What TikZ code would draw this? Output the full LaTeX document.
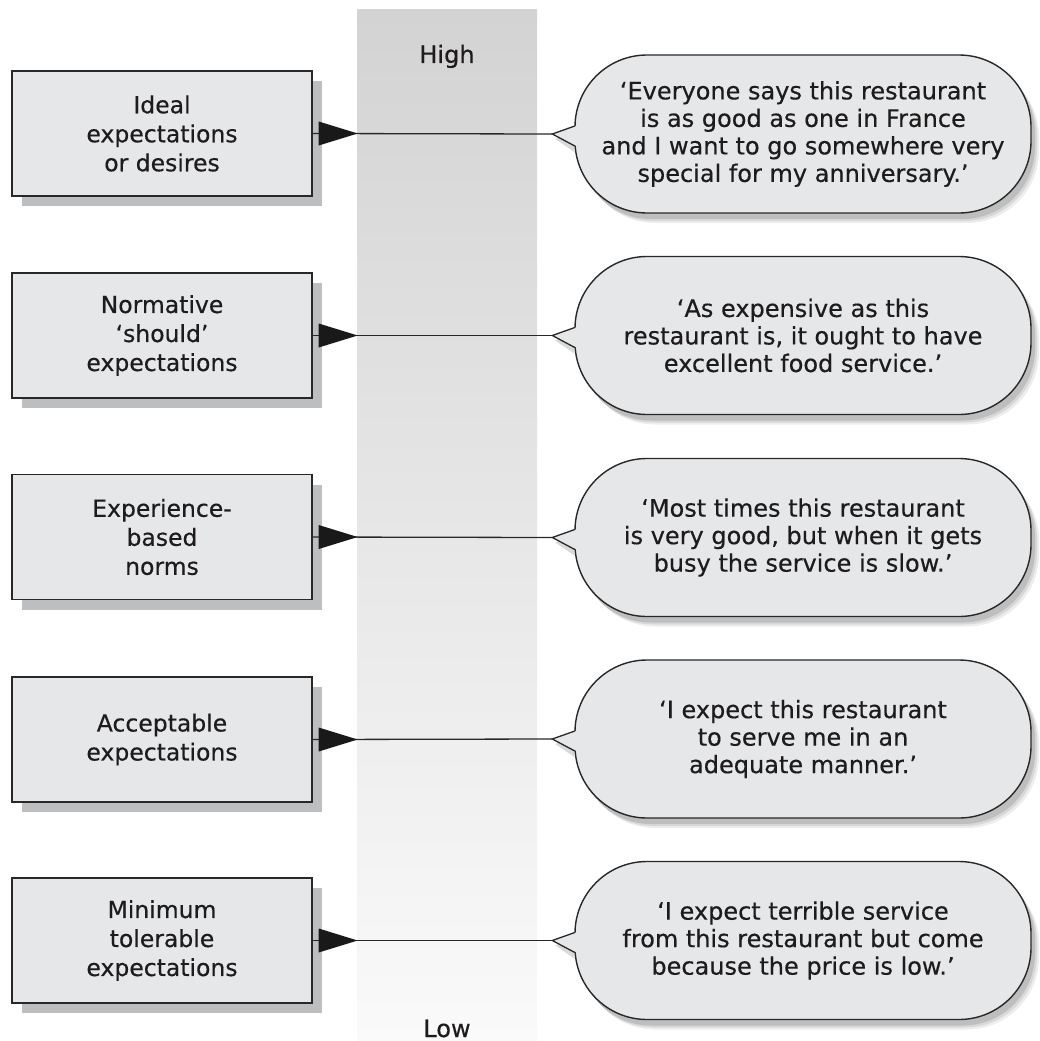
\documentclass[tikz,border=0pt]{standalone}
\usepackage{fontspec}
\setmainfont{DejaVu Sans}[FakeBold=0.4]
\usetikzlibrary{shadows,calc}

\definecolor{boxfill}{RGB}{230,231,232}
\definecolor{boxshade}{RGB}{188,190,192}
\definecolor{inkline}{RGB}{40,40,40}
\definecolor{inktext}{RGB}{30,27,28}
\definecolor{scaletop}{RGB}{211,211,211}
\definecolor{scalebot}{RGB}{250,250,250}

\begin{document}
\begin{tikzpicture}[x=1pt,y=-1pt,
  levelbox/.style={draw=inkline, line width=1.4pt, fill=boxfill,
    minimum width=300pt, minimum height=125pt, inner sep=0pt,
    align=center, text=inktext, font=\fontsize{23.5}{29}\selectfont,
    general shadow={fill=boxshade, shadow xshift=10pt, shadow yshift=-10pt}},
  quote/.style={draw=inkline, line width=1.4pt, fill=boxfill,
    rounded corners=72pt, minimum width=456pt, minimum height=158pt, inner sep=0pt,
    align=center, text=inktext, font=\fontsize{24}{27.5}\selectfont,
    general shadow={fill=black, opacity=.07, shadow xshift=8pt, shadow yshift=-10pt},
    general shadow={fill=black, opacity=.09, shadow xshift=6pt, shadow yshift=-8pt},
    general shadow={fill=black, opacity=.12, shadow xshift=4pt, shadow yshift=-6pt}},
  scalelabel/.style={font=\fontsize{24}{28}\selectfont, text=inktext, anchor=base},
  link/.style={draw=inkline, line width=1.3pt},
  head/.style={fill=black!90},
  tailshade/.style={fill=black, opacity=.15},
]
\useasboundingbox (0,0) rectangle (1039,1041);

% graded scale from high to low
\shade[top color=scaletop, bottom color=scalebot] (357,10) rectangle (537,1041);
\node[scalelabel] (high) at (447,63) {High};
\node[scalelabel] (low) at (447,1037) {Low};

% kinds of expectation
\node[levelbox] (lvl1) at (162,133.5) {Ideal\\expectations\\or desires};
\node[levelbox] (lvl2) at (162,335.5) {Normative\\‘should’\\expectations};
\node[levelbox] (lvl3) at (162,537) {Experience-\\based\\norms};
\node[levelbox] (lvl4) at (162,739.5) {Acceptable\\expectations};
\node[levelbox] (lvl5) at (162,940.5) {Minimum\\tolerable\\expectations};

% what a customer might say
\node[quote] (say1) at (803,134) {‘Everyone says this restaurant\\is as good as one in France\\and I want to go somewhere very\\special for my anniversary.’};
\node[quote] (say2) at (803,335.5) {‘As expensive as this\\restaurant is, it ought to have\\excellent food service.’};
\node[quote] (say3) at (803,537.5) {‘Most times this restaurant\\is very good, but when it gets\\busy the service is slow.’};
\node[quote] (say4) at (803,739) {‘I expect this restaurant\\to serve me in an\\adequate manner.’};
\node[quote] (say5) at (803,940.5) {‘I expect terrible service\\from this restaurant but come\\because the price is low.’};

% speech tails and connectors
\foreach \k in {1,...,5}{
  \coordinate (tip\k) at ($(say\k.west)+(-22,0)$);
  \fill[tailshade] ($(say\k.west)+(0,-2)$) -- ($(tip\k)+(3,5)$) -- ($(say\k.west)+(0,18)$) -- cycle;
  \fill[boxfill] ($(say\k.west)+(2,-8)$) -- (tip\k) -- ($(say\k.west)+(2,12)$) -- cycle;
  \draw[link] ($(say\k.west)+(0.5,-8)$) -- (tip\k) -- ($(say\k.west)+(0.5,12)$);
  \draw[link] (lvl\k.east) -- (tip\k);
  \fill[head] ($(lvl\k.east)+(6,-12)$) -- ($(lvl\k.east)+(45,0)$) -- ($(lvl\k.east)+(6,12)$) -- cycle;
}
\end{tikzpicture}
\end{document}
